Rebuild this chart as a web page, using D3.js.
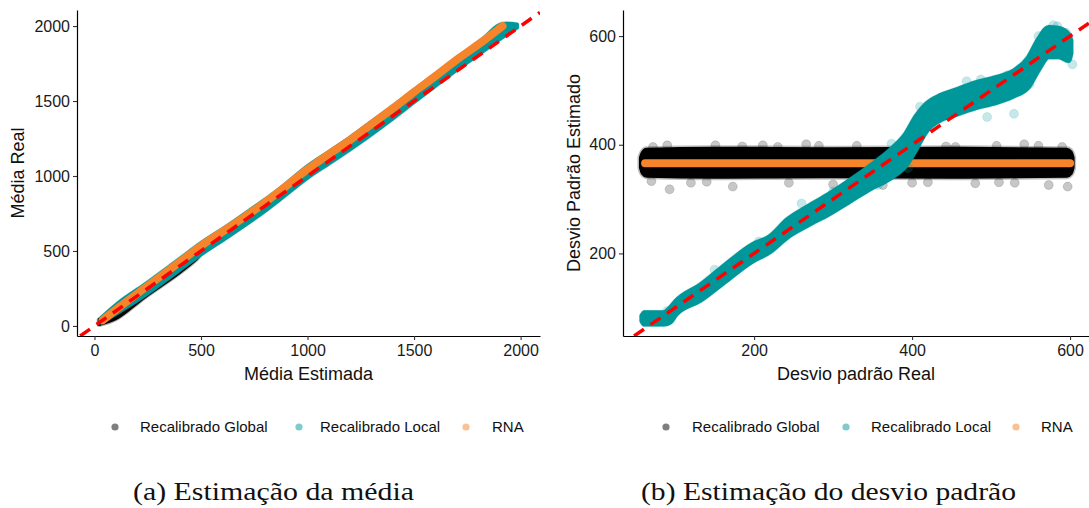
<!DOCTYPE html>
<html><head><meta charset="utf-8">
<script src="https://cdn.jsdelivr.net/npm/d3@7"></script>
<style>
html,body{margin:0;padding:0;background:#fff;}
svg{display:block;}
</style></head>
<body>
<svg id="chart" width="1089" height="508"></svg>
<script>
// ---------- DATA ----------
const seriesNames = ["Recalibrado Global", "Recalibrado Local", "RNA"];
const xTicksLeft = [0, 500, 1000, 1500, 2000];
const yTicksLeft = [0, 500, 1000, 1500, 2000];
const xTicksRight = [200, 400, 600];
const yTicksRight = [200, 400, 600];

// Panel (a): Média Estimada (x) vs Média Real (y)
// bands: [x, yLow, yHigh]
const leftBlack = [[22,10,42],[100,48,108],[235,192,248],[392,348,408],[480,448,518],[501,484,543],[626,614,658],[782,774,813],[1000,1014,1056],[1200,1217,1253],[1400,1427,1463],[1600,1634,1678],[1800,1844,1888],[1912,1988,2008]];
const leftTeal = [[32,20,58],[120,95,165],[235,200,278],[392,362,442],[501,475,557],[626,592,672],[782,745,827],[861,830,907],[1000,985,1068],[1100,1080,1163],[1200,1175,1258],[1300,1275,1363],[1400,1380,1463],[1500,1490,1573],[1600,1598,1675],[1700,1705,1778],[1800,1805,1880],[1900,1908,2010],[1985,1988,2012]];
// line: [x, y]
const leftOrange = [[38,38],[120,130],[235,252],[392,418],[501,535],[626,652],[782,805],[861,890],[1000,1045],[1100,1145],[1200,1240],[1300,1345],[1400,1450],[1500,1560],[1600,1665],[1700,1775],[1800,1875],[1915,2000]];

// Panel (b): Desvio padrão Real (x) vs Desvio Padrão Estimado (y)
const rightBlack = [[58,358,376],[60,349,384],[64,345,389],[150,343,391],[300,344,390],[450,343,391],[596,345,389],[600,349,385],[602,358,376]];
const rightBlackOutliers = [[93,318],[266,401],[173,323],[573,326],[597,323],[507,398],[542,401],[443,397],[151,399],[72,396],[211,399],[363,326],[480,329],[244,330],[120,330],[330,398],[400,330],[530,330],[90,399],[300,327],[185,397],[230,396],[455,396],[560,398],[140,332],[420,331],[590,396],[70,333],[282,398],[510,331]];
const rightTeal = [[58,76,85],[61,70,91],[86,70,91],[94,74,100],[101,88,112],[132,114,142],[162,147,177],[198,186,216],[220,203,231],[242,230,262],[268,252,286],[295,273,309],[321,296,334],[348,320,362],[374,340,392],[392,362,420],[405,392,452],[418,425,475],[435,445,490],[454,455,500],[480,468,514],[507,478,524],[529,490,536],[547,506,560],[560,538,594],[573,562,616],[586,562,614],[598,555,603],[601,568,592]];
const rightTealOutliers = [[469,517],[487,520],[495,451],[529,457],[549,512],[579,620],[584,618],[595,606],[603,548],[374,402],[357,326],[420,470],[520,528],[100,96],[150,170],[260,292],[330,315],[410,470],[445,480],[505,486],[560,600],[90,94],[206,222],[300,314],[395,357]];
const rightOrange = [[62,366],[600,366]];

// ---------- STYLE ----------
const colBlack = "#000000", colTeal = "#00979A", colOrange = "#F5842B", colRed = "#FF0000";
const sans = '"Liberation Sans",Arial,sans-serif';
const svg = d3.select("#chart");

const panels = [
  {id:"a", xr:[77,540], yr:[336,10], xd:[-82,2091], yd:[-67,2107], xt:xTicksLeft, yt:yTicksLeft,
   xlab:"Média Estimada", ylab:"Média Real", ylabX:24},
  {id:"b", xr:[623,1089], yr:[336,10], xd:[34,624], yd:[48,648], xt:xTicksRight, yt:yTicksRight,
   xlab:"Desvio padrão Real", ylab:"Desvio Padrão Estimado", ylabX:580}
];

function band(g, data, x, y, color, haloW, haloOp, coreW, curve) {
  const area = d3.area().x(d=>x(d[0])).y0(d=>y(d[1])).y1(d=>y(d[2])).curve(curve);
  if (haloW > 0) {
    g.append("path").attr("d", area(data)).attr("fill", "none")
      .attr("stroke", color).attr("stroke-opacity", haloOp).attr("stroke-width", haloW).attr("stroke-linejoin","round");
  }
  g.append("path").attr("d", area(data)).attr("fill", color)
    .attr("stroke", color).attr("stroke-width", coreW).attr("stroke-linejoin","round");
}
function dots(g, data, x, y, color, op) {
  g.selectAll(null).data(data).join("circle")
    .attr("cx", d=>x(d[0])).attr("cy", d=>y(d[1])).attr("r", 4.5)
    .attr("fill", color).attr("fill-opacity", op).attr("stroke", color).attr("stroke-opacity", op*0.6);
}
function orangeLine(g, data, x, y) {
  g.append("path").attr("d", d3.line().x(d=>x(d[0])).y(d=>y(d[1])).curve(d3.curveMonotoneX)(data))
    .attr("fill","none").attr("stroke", colOrange).attr("stroke-width", 8).attr("stroke-linecap","round").attr("stroke-linejoin","round");
}

panels.forEach((p, i) => {
  const x = d3.scaleLinear().domain(p.xd).range(p.xr);
  const y = d3.scaleLinear().domain(p.yd).range(p.yr);
  const clipId = "clip" + p.id;
  svg.append("clipPath").attr("id", clipId).append("rect")
    .attr("x", p.xr[0]).attr("y", p.yr[1]).attr("width", p.xr[1]-p.xr[0]).attr("height", p.yr[0]-p.yr[1]);
  const g = svg.append("g").attr("clip-path", `url(#${clipId})`);

  if (i === 0) {
    band(g, leftBlack, x, y, colBlack, 5, 0.3, 3, d3.curveCatmullRom);
    band(g, leftTeal, x, y, colTeal, 4, 0.3, 3, d3.curveCatmullRom);
    orangeLine(g, leftOrange, x, y);
  } else {
    dots(g, rightBlackOutliers, x, y, colBlack, 0.22);
    band(g, rightBlack, x, y, colBlack, 9, 0.25, 6, d3.curveMonotoneX);
    orangeLine(g, rightOrange, x, y);
    dots(g, rightTealOutliers, x, y, colTeal, 0.22);
    band(g, rightTeal, x, y, colTeal, 6, 0.22, 5, d3.curveMonotoneX);
  }
  // identity dashed line
  const lo = Math.max(p.xd[0], p.yd[0]), hi = Math.min(p.xd[1], p.yd[1]);
  g.append("line").attr("x1", x(lo)).attr("y1", y(lo)).attr("x2", x(hi)).attr("y2", y(hi))
    .attr("stroke", colRed).attr("stroke-width", 3.5).attr("stroke-dasharray", "12,8");

  // axes
  const ax = svg.append("g").attr("transform", `translate(0,${p.yr[0]})`)
    .call(d3.axisBottom(x).tickValues(p.xt).tickFormat(d3.format("d")).tickSize(4).tickPadding(5).tickSizeOuter(0));
  const ay = svg.append("g").attr("transform", `translate(${p.xr[0]},0)`)
    .call(d3.axisLeft(y).tickValues(p.yt).tickFormat(d3.format("d")).tickSize(4).tickPadding(3).tickSizeOuter(0));
  [ax, ay].forEach(a => {
    a.selectAll(".domain").attr("stroke", "#000").attr("stroke-width", 1.2);
    a.selectAll(".tick line").attr("stroke", "#333").attr("stroke-width", 1.1);
    a.selectAll(".tick text").style("font-size", "16px").attr("fill", "#1a1a1a").style("font-family", sans);
  });
  svg.append("text").attr("x", (p.xr[0]+p.xr[1])/2).attr("y", 380).attr("text-anchor","middle")
    .style("font-family", sans).style("font-size", "18px").attr("fill", "#111").text(p.xlab);
  svg.append("text").attr("transform", `translate(${p.ylabX},${(p.yr[0]+p.yr[1])/2}) rotate(-90)`)
    .attr("text-anchor","middle").style("font-family", sans).style("font-size", "18px").attr("fill", "#111").text(p.ylab);
});

// legends
const legendCols = [colBlack, colTeal, colOrange];
const legendLayouts = [
  {dots:[115,299,466], texts:[140,320,492]},
  {dots:[666,846,1016], texts:[692,871,1041]}
];
legendLayouts.forEach(L => {
  seriesNames.forEach((s, k) => {
    svg.append("circle").attr("cx", L.dots[k]).attr("cy", 427).attr("r", 3.6)
      .attr("fill", legendCols[k]).attr("fill-opacity", 0.5);
    svg.append("text").attr("x", L.texts[k]).attr("y", 432)
      .style("font-family", sans).style("font-size", "15px").attr("fill", "#111").text(s);
  });
});

// captions
const captions = [
  {t:"(a) Estimação da média", x:133, w:281},
  {t:"(b) Estimação do desvio padrão", x:641, w:375}
];
captions.forEach(c => {
  svg.append("text").attr("x", c.x).attr("y", 500)
    .style("font-family", '"Liberation Serif","Times New Roman",serif').style("font-size", "26px")
    .attr("textLength", c.w).attr("lengthAdjust", "spacingAndGlyphs").attr("fill", "#111").text(c.t);
});
</script>
</body></html>
